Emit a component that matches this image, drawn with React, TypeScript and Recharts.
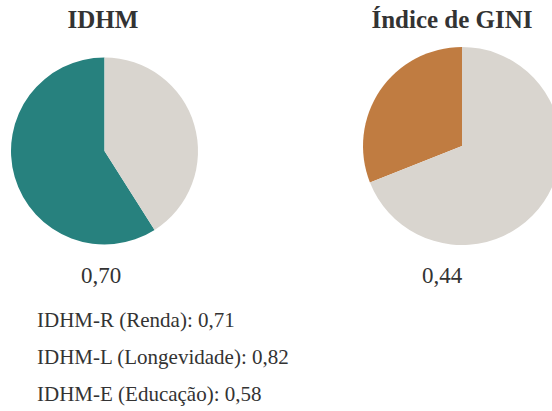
import { Cell, Pie, PieChart } from "recharts";

const IDHM_PARTS = ["IDHM", "Restante"];
const IDHM_SHARE = [0.59, 0.41];
const GINI_PARTS = ["GINI", "Restante"];
const GINI_SHARE = [0.31, 0.69];

const TITLES = ["IDHM", "Índice de GINI"];
const VALUES = ["0,70", "0,44"];
const DETAILS = [
  "IDHM-R (Renda): 0,71",
  "IDHM-L (Longevidade): 0,82",
  "IDHM-E (Educação): 0,58",
];

const IDHM_COLORS = ["#27817e", "#d9d5cf"];
const GINI_COLORS = ["#c07c41", "#d9d5cf"];

const W = 552;
const H = 411;
const FONT = "Liberation Serif, Times New Roman, Times, DejaVu Serif, serif";

export default function App() {
  const idhm = IDHM_PARTS.map((name, i) => ({ name, value: IDHM_SHARE[i] }));
  const gini = GINI_PARTS.map((name, i) => ({ name, value: GINI_SHARE[i] }));

  return (
    <div
      style={{
        position: "absolute",
        left: 0,
        top: 0,
        width: W,
        height: H,
        background: "#fff",
        overflow: "hidden",
        fontFamily: FONT,
      }}
    >
      <PieChart width={W} height={H} margin={{ top: 0, right: 0, bottom: 0, left: 0 }}>
        <Pie
          data={idhm}
          dataKey="value"
          cx={104.5}
          cy={151}
          outerRadius={93.5}
          startAngle={90}
          endAngle={450}
          stroke="none"
          isAnimationActive={false}
        >
          {idhm.map((d, i) => (
            <Cell key={d.name} fill={IDHM_COLORS[i]} />
          ))}
        </Pie>
        <Pie
          data={gini}
          dataKey="value"
          cx={462}
          cy={146}
          outerRadius={99}
          startAngle={90}
          endAngle={450}
          stroke="none"
          isAnimationActive={false}
        >
          {gini.map((d, i) => (
            <Cell key={d.name} fill={GINI_COLORS[i]} />
          ))}
        </Pie>
      </PieChart>
      <div style={{ position: "absolute", left: 0, top: 0, width: W, height: H, color: "#333" }}>
        <div style={{ position: "absolute", left: 3, width: 200, top: 5, textAlign: "center", fontSize: 25, fontWeight: "bold", lineHeight: "30px" }}>
          {TITLES[0]}
        </div>
        <div style={{ position: "absolute", left: 352, width: 200, top: 5, textAlign: "center", fontSize: 25, fontWeight: "bold", lineHeight: "30px" }}>
          {TITLES[1]}
        </div>
        <div style={{ position: "absolute", left: 1, width: 200, top: 261, textAlign: "center", fontSize: 23, lineHeight: "30px" }}>
          {VALUES[0]}
        </div>
        <div style={{ position: "absolute", left: 342, width: 200, top: 261, textAlign: "center", fontSize: 23, lineHeight: "30px" }}>
          {VALUES[1]}
        </div>
        {DETAILS.map((t, i) => (
          <div key={t} style={{ position: "absolute", left: 37, top: 306 + i * 37, fontSize: 21, lineHeight: "28px", whiteSpace: "nowrap" }}>
            {t}
          </div>
        ))}
      </div>
    </div>
  );
}
